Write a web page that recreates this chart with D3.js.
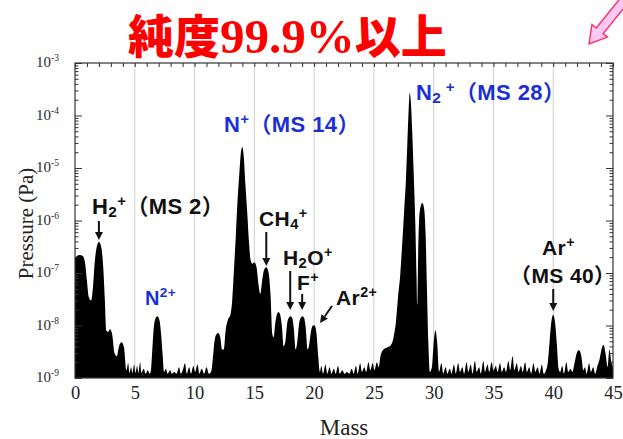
<!DOCTYPE html>
<html>
<head>
<meta charset="utf-8">
<script src="https://cdn.jsdelivr.net/npm/d3@7"></script>
<style>
  html, body { margin: 0; padding: 0; background: #fff; }
  svg { display: block; }
</style>
</head>
<body>
<svg id="chart" width="623" height="439"></svg>
<script>
// ---- data -------------------------------------------------------------
// Residual gas spectrum: [mass, pressure (Pa)] vertices of the trace
const spectrum = [
  [0.00, 1.9e-7], [0.15, 2.1e-7], [0.40, 2.2e-7], [0.65, 2.1e-7], [0.85, 1.5e-7],
  [1.00, 7e-8], [1.15, 3.5e-8], [1.35, 3.0e-8], [1.52, 6e-8], [1.65, 1.6e-7],
  [1.80, 3.0e-7], [2.00, 3.9e-7], [2.20, 3.1e-7], [2.36, 1.3e-7], [2.50, 3e-8],
  [2.62, 8e-9], [2.75, 7.5e-9], [2.92, 8.5e-9], [3.10, 7e-9], [3.30, 3e-9],
  [3.50, 2.6e-9], [3.68, 4e-9], [3.90, 4.8e-9], [4.10, 3.8e-9], [4.30, 1.4e-9],
  [4.45, 1.9e-9], [4.55, 1.25e-9], [4.70, 1.6e-9], [4.80, 1.25e-9], [4.95, 1.8e-9],
  [5.05, 1.25e-9], [5.20, 1.7e-9], [5.30, 1.25e-9], [5.45, 2.0e-9], [5.55, 1.25e-9],
  [5.75, 1.5e-9], [5.90, 1.2e-9], [6.10, 1.4e-9], [6.25, 1.2e-9],
  [6.35, 1.4e-9], [6.45, 3e-9], [6.55, 7e-9], [6.70, 1.3e-8], [6.88, 1.5e-8],
  [7.05, 1.3e-8], [7.20, 7e-9], [7.32, 3e-9], [7.45, 1.3e-9],
  [7.60, 1.5e-9], [7.75, 1.2e-9], [7.95, 1.4e-9], [8.10, 1.2e-9], [8.30, 1.3e-9],
  [8.50, 1.2e-9], [8.70, 1.6e-9], [8.85, 1.2e-9], [9.05, 1.5e-9], [9.20, 1.9e-9],
  [9.35, 1.2e-9], [9.55, 1.6e-9], [9.70, 1.2e-9], [9.90, 1.7e-9], [10.05, 1.3e-9],
  [10.25, 1.8e-9], [10.40, 1.2e-9], [10.60, 1.5e-9], [10.80, 1.2e-9], [11.00, 1.6e-9],
  [11.20, 1.2e-9], [11.38, 1.3e-9],
  [11.50, 2.0e-9], [11.62, 4e-9], [11.78, 6.5e-9], [11.98, 7.2e-9], [12.15, 6e-9],
  [12.30, 3.5e-9], [12.45, 3.5e-9], [12.60, 8e-9], [12.80, 1.3e-8], [13.00, 1.6e-8],
  [13.15, 3e-8], [13.30, 1.2e-7], [13.45, 5e-7], [13.60, 2.5e-6], [13.75, 8e-6],
  [13.88, 2e-5], [14.00, 2.5e-5], [14.12, 1.6e-5], [14.25, 5e-6], [14.40, 1.5e-6],
  [14.55, 4e-7], [14.68, 1.8e-7], [14.84, 1.5e-7], [15.00, 1.6e-7], [15.18, 1.3e-7],
  [15.35, 6e-8], [15.50, 4e-8], [15.65, 7e-8], [15.82, 1.15e-7], [16.00, 1.28e-7],
  [16.18, 1.05e-7], [16.35, 4e-8], [16.50, 7e-9],
  [16.62, 6e-9], [16.75, 1.1e-8], [16.88, 1.6e-8], [17.02, 1.8e-8], [17.16, 1.6e-8],
  [17.30, 1.0e-8], [17.45, 4e-9], [17.60, 5e-9], [17.75, 1.1e-8], [17.88, 1.4e-8],
  [18.02, 1.5e-8], [18.16, 1.4e-8], [18.30, 9e-9], [18.46, 3.5e-9], [18.60, 5e-9],
  [18.75, 1.1e-8], [18.88, 1.4e-8], [19.02, 1.5e-8], [19.16, 1.4e-8], [19.30, 9e-9],
  [19.46, 3.5e-9], [19.60, 4.5e-9], [19.75, 8e-9], [19.90, 1.0e-8], [20.05, 1.0e-8],
  [20.20, 7e-9], [20.35, 2.5e-9], [20.48, 1.3e-9],
  [20.60, 1.7e-9], [20.75, 1.2e-9], [20.95, 1.8e-9], [21.10, 1.2e-9], [21.30, 1.6e-9],
  [21.45, 1.2e-9], [21.65, 1.5e-9], [21.80, 1.2e-9], [22.00, 1.7e-9], [22.15, 1.2e-9],
  [22.35, 1.4e-9], [22.55, 1.2e-9], [22.75, 1.3e-9], [22.95, 1.2e-9], [23.15, 1.5e-9],
  [23.30, 1.2e-9], [23.50, 1.7e-9], [23.65, 1.2e-9], [23.85, 1.9e-9], [24.00, 1.3e-9],
  [24.20, 1.6e-9], [24.35, 1.3e-9], [24.55, 2.0e-9], [24.70, 1.4e-9], [24.90, 1.9e-9],
  [25.05, 1.4e-9], [25.25, 2.0e-9], [25.40, 1.6e-9],
  [25.55, 2.6e-9], [25.80, 3.5e-9], [26.10, 3.8e-9], [26.40, 4.2e-9], [26.65, 6e-9],
  [26.85, 1.2e-8], [27.02, 3.5e-8], [27.20, 9e-8], [27.38, 4e-7], [27.53, 1.5e-6],
  [27.68, 6e-6], [27.80, 3e-5], [27.91, 1.3e-4], [28.00, 2.7e-4], [28.10, 1.7e-4],
  [28.20, 5.5e-5], [28.33, 8e-6], [28.47, 8e-7], [28.57, 8e-8], [28.63, 2.5e-8],
  [28.69, 1.5e-7], [28.78, 1.0e-6], [28.90, 1.8e-6], [29.05, 2.15e-6], [29.20, 1.7e-6],
  [29.32, 6e-7], [29.43, 6e-8], [29.55, 5e-9], [29.68, 1.3e-9], [29.85, 1.6e-9],
  [29.98, 4e-9], [30.15, 8e-9], [30.30, 4.5e-9], [30.45, 1.3e-9],
  [30.65, 1.9e-9], [30.80, 1.2e-9], [31.00, 1.6e-9], [31.15, 1.2e-9], [31.35, 1.5e-9],
  [31.50, 1.2e-9], [31.70, 1.8e-9], [31.85, 1.2e-9], [32.05, 1.9e-9], [32.20, 1.3e-9],
  [32.40, 1.6e-9], [32.55, 1.2e-9], [32.75, 2.0e-9], [32.90, 1.3e-9], [33.10, 1.8e-9],
  [33.25, 1.2e-9], [33.45, 2.1e-9], [33.60, 1.3e-9], [33.80, 1.6e-9], [33.95, 1.2e-9],
  [34.15, 2.1e-9], [34.30, 1.3e-9], [34.50, 1.8e-9], [34.65, 1.3e-9], [34.85, 2.0e-9],
  [35.00, 1.4e-9], [35.20, 1.7e-9], [35.35, 1.3e-9], [35.55, 1.9e-9], [35.70, 1.3e-9],
  [35.90, 1.6e-9], [36.05, 1.3e-9], [36.25, 2.1e-9], [36.40, 1.4e-9], [36.60, 2.6e-9],
  [36.75, 1.4e-9], [36.95, 1.9e-9], [37.10, 1.3e-9], [37.30, 1.7e-9], [37.45, 1.3e-9],
  [37.65, 2.0e-9], [37.80, 1.3e-9], [38.00, 1.6e-9], [38.15, 1.2e-9], [38.35, 1.9e-9],
  [38.50, 1.3e-9], [38.70, 1.6e-9], [38.85, 1.2e-9], [39.05, 1.8e-9], [39.20, 1.2e-9],
  [39.40, 1.4e-9],
  [39.55, 2.0e-9], [39.70, 5e-9], [39.85, 1.2e-8], [40.00, 1.6e-8], [40.15, 1.15e-8],
  [40.30, 4.5e-9], [40.45, 1.5e-9],
  [40.58, 1.3e-9], [40.75, 1.7e-9], [40.90, 1.2e-9], [41.10, 2.0e-9], [41.25, 1.3e-9],
  [41.45, 1.5e-9], [41.60, 1.3e-9],
  [41.78, 1.9e-9], [41.95, 2.9e-9], [42.15, 3.4e-9], [42.35, 2.6e-9], [42.52, 1.4e-9],
  [42.65, 1.6e-9], [42.80, 1.2e-9], [43.00, 1.9e-9], [43.15, 1.3e-9], [43.35, 1.6e-9],
  [43.50, 1.2e-9], [43.70, 1.7e-9],
  [43.88, 2.3e-9], [44.05, 3.6e-9], [44.20, 4.3e-9], [44.38, 2.9e-9], [44.55, 1.6e-9],
  [44.70, 3.5e-9], [44.85, 2.1e-9], [45.00, 1.6e-9]
];

const massTicks = [0, 5, 10, 15, 20, 25, 30, 35, 40, 45];
const gridMasses = [5, 10, 15, 20, 25, 30, 35, 40];
const pressureDecades = [-9, -8, -7, -6, -5, -4, -3];

// peaks that carry an arrow
const arrowedMasses = { h2: 2, ch4: 16, h2o: 18, f: 19, ar: 40 };

// ---- layout -----------------------------------------------------------
const plot = { left: 75, right: 613, top: 63, bottom: 378 };
const BLUE = "#1b2fd2";
const INK = "#111";
const SERIF = "'Liberation Serif', 'Times New Roman', serif";
const SANS = "'Liberation Sans', Arial, sans-serif";
const CJK = "'Noto Sans CJK JP', 'Noto Sans CJK SC', sans-serif";

const svg = d3.select("#chart");

const x = d3.scaleLinear().domain([0, 45]).range([plot.left, plot.right]);
const y = d3.scaleLog().domain([1e-9, 1e-3]).range([plot.bottom, plot.top]).clamp(true);

svg.append("defs").append("clipPath").attr("id", "plotClip")
  .append("rect")
  .attr("x", plot.left).attr("y", plot.top)
  .attr("width", plot.right - plot.left).attr("height", plot.bottom - plot.top);

// vertical grid lines
svg.append("g").selectAll("line").data(gridMasses).join("line")
  .attr("x1", d => x(d)).attr("x2", d => x(d))
  .attr("y1", plot.top).attr("y2", plot.bottom)
  .attr("stroke", "#cfcfcf").attr("stroke-width", 1);

// filled spectrum
const area = d3.area()
  .x(d => x(d[0]))
  .y0(y(1e-9))
  .y1(d => y(d[1]))
  .curve(d3.curveMonotoneX);

svg.append("path")
  .datum(spectrum)
  .attr("clip-path", "url(#plotClip)")
  .attr("d", area)
  .attr("fill", "#000");

// ---- axes ---------------------------------------------------------------
const axisColor = "#333";
const minorMass = d3.range(0, 46, 1);
const majorP = pressureDecades.map(e => Math.pow(10, e));
const minorP = [];
pressureDecades.slice(0, -1).forEach(e => {
  for (let k = 2; k <= 9; k++) minorP.push(k * Math.pow(10, e));
});

function styleAxis(g) {
  g.select(".domain").remove();
  g.selectAll(".tick line").attr("stroke", axisColor).attr("stroke-width", 1);
}

// bottom: labels
svg.append("g")
  .attr("transform", `translate(0,${plot.bottom})`)
  .call(d3.axisBottom(x).tickValues(massTicks).tickSize(0).tickPadding(8).tickFormat(d3.format("d")))
  .call(styleAxis)
  .call(g => g.selectAll("text")
    .attr("font-family", SERIF).attr("font-size", 18.5).attr("fill", "#222"));

// top: inward minor ticks
svg.append("g")
  .attr("transform", `translate(0,${plot.top})`)
  .call(d3.axisTop(x).tickValues(minorMass).tickSize(-4).tickFormat(""))
  .call(styleAxis);

// left: inward log ticks
svg.append("g")
  .attr("transform", `translate(${plot.left},0)`)
  .call(d3.axisLeft(y).tickValues(minorP).tickSize(-3.5).tickFormat(""))
  .call(styleAxis);
svg.append("g")
  .attr("transform", `translate(${plot.left},0)`)
  .call(d3.axisLeft(y).tickValues(majorP).tickSize(-7).tickFormat(""))
  .call(styleAxis);

// right: inward log ticks
svg.append("g")
  .attr("transform", `translate(${plot.right},0)`)
  .call(d3.axisRight(y).tickValues(minorP).tickSize(-3.5).tickFormat(""))
  .call(styleAxis);
svg.append("g")
  .attr("transform", `translate(${plot.right},0)`)
  .call(d3.axisRight(y).tickValues(majorP).tickSize(-7).tickFormat(""))
  .call(styleAxis);

// decade labels 10^n
const yLab = svg.append("g").selectAll("text").data(pressureDecades).join("text")
  .attr("x", 59)
  .attr("y", e => y(Math.pow(10, e)) + 4)
  .attr("text-anchor", "end")
  .attr("font-family", SERIF)
  .attr("fill", "#2a2a2a");
yLab.append("tspan").attr("font-size", 15).text("10");
yLab.append("tspan").attr("font-size", 9.5).attr("dy", -6).text(e => "-" + Math.abs(e));

// frame
svg.append("rect")
  .attr("x", plot.left).attr("y", plot.top)
  .attr("width", plot.right - plot.left).attr("height", plot.bottom - plot.top)
  .attr("fill", "none").attr("stroke", axisColor).attr("stroke-width", 1.2);

// axis titles
svg.append("text")
  .attr("transform", `translate(33,${(plot.top + plot.bottom) / 2 + 3}) rotate(-90)`)
  .attr("text-anchor", "middle")
  .attr("font-family", SERIF).attr("font-size", 21).attr("fill", "#222")
  .text("Pressure (Pa)");

svg.append("text")
  .attr("x", (plot.left + plot.right) / 2).attr("y", 435)
  .attr("text-anchor", "middle")
  .attr("font-family", SERIF).attr("font-size", 23).attr("fill", "#222")
  .text("Mass");

// ---- title ---------------------------------------------------------------
const title = svg.append("text")
  .attr("x", 128).attr("y", 53)
  .attr("fill", "#ff0000").attr("font-weight", 700);
title.append("tspan").attr("font-family", CJK).attr("font-size", 46).attr("font-weight", 900).text("純度");
title.append("tspan").attr("font-family", SERIF).attr("font-size", 49).text("99.9%");
title.append("tspan").attr("font-family", CJK).attr("font-size", 46).attr("font-weight", 900).text("以上");

// pink pointer arrow in the corner
svg.append("path")
  .attr("transform", "translate(589,44) rotate(-51)")
  .attr("d", "M0,0 L17,-10 L17,-4.5 L75,-4.5 L75,4.5 L17,4.5 L17,10 Z")
  .attr("fill", "#ffc9f1").attr("stroke", "#ff2a6a").attr("stroke-width", 1.4)
  .attr("stroke-linejoin", "miter");

// ---- annotations -------------------------------------------------------
function label(xp, yp, color, parts, size) {
  size = size || 22;
  const t = svg.append("text")
    .attr("x", xp).attr("y", yp)
    .attr("fill", color)
    .attr("font-family", SANS).attr("font-weight", 700).attr("font-size", size)
    .attr("letter-spacing", 0.4);
  let shift = 0;
  parts.forEach(([s, kind]) => {
    const ts = t.append("tspan").text(s);
    let target = 0;
    if (kind === "sub") { ts.attr("font-size", size * 0.7); target = 2.5; }
    else if (kind === "sup") { ts.attr("font-size", size * 0.68); target = -8; }
    else if (kind === "cjk") { ts.attr("font-family", CJK).attr("font-weight", 700); }
    if (target !== shift) { ts.attr("dy", target - shift); shift = target; }
  });
  return t;
}

label(92, 214, INK, [["H"], ["2", "sub"], ["+", "sup"], ["（", "cjk"], ["MS 2"], ["）", "cjk"]]);
label(145, 305, BLUE, [["N"], ["2+", "sup"]], 20);
label(224, 132, BLUE, [["N"], ["+", "sup"], ["（", "cjk"], ["MS 14"], ["）", "cjk"]]);
label(416, 100, BLUE, [["N"], ["2", "sub"], [" +", "sup"], ["（", "cjk"], ["MS 28"], ["）", "cjk"]]);
label(259, 226, INK, [["C"], ["H"], ["4", "sub"], ["+", "sup"]], 21);
label(283, 265, INK, [["H"], ["2", "sub"], ["O"], ["+", "sup"]], 21);
label(297, 290, INK, [["F"], ["+", "sup"]], 21);
label(336, 305, INK, [["Ar"], ["2+", "sup"]], 21);
label(542, 255, INK, [["Ar"], ["+", "sup"]], 21);
label(510, 283, INK, [["（", "cjk"], ["MS 40"], ["）", "cjk"]], 21);

function arrow(x1, y1, x2, y2) {
  const ang = Math.atan2(y2 - y1, x2 - x1);
  const hl = 8, hw = 4;
  const bx = x2 - hl * Math.cos(ang), by = y2 - hl * Math.sin(ang);
  svg.append("line")
    .attr("x1", x1).attr("y1", y1).attr("x2", bx).attr("y2", by)
    .attr("stroke", "#111").attr("stroke-width", 2);
  const px = -Math.sin(ang) * hw, py = Math.cos(ang) * hw;
  svg.append("path")
    .attr("d", `M${x2},${y2} L${bx + px},${by + py} L${bx - px},${by - py} Z`)
    .attr("fill", "#111");
}

arrow(x(arrowedMasses.h2), 221, x(arrowedMasses.h2), 240);
arrow(x(arrowedMasses.ch4), 232, x(arrowedMasses.ch4), 266);
arrow(x(arrowedMasses.h2o), 271, x(arrowedMasses.h2o), 310);
arrow(x(arrowedMasses.f), 294, x(arrowedMasses.f), 310);
arrow(332, 306, 320, 323);
arrow(x(arrowedMasses.ar), 289, x(arrowedMasses.ar), 311);
</script>
</body>
</html>
